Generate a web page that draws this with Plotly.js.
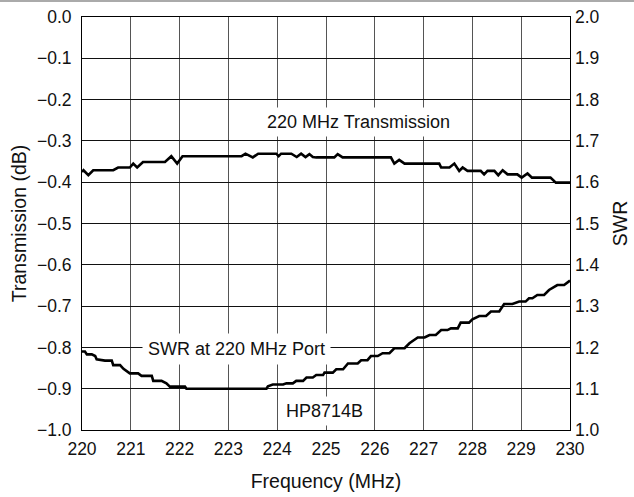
<!DOCTYPE html>
<html>
<head>
<meta charset="utf-8">
<script src="https://cdn.plot.ly/plotly-3.0.1.min.js"></script>
<style>html,body{margin:0;padding:0;background:#fff;}#chart{width:634px;height:497px;}</style>
</head>
<body>
<div id="chart"></div>
<script>
// 220 MHz transmission (dB), left axis
const transFreq = [220.00, 220.03, 220.13, 220.23, 220.64, 220.74, 220.98, 221.05, 221.13, 221.25, 221.70, 221.83, 221.95, 222.06,
  223.27, 223.35, 223.50, 223.61, 223.98, 224.03, 224.08, 224.29, 224.40, 224.49, 224.58, 224.66, 224.73, 224.80,
  225.17, 225.24, 225.34, 226.33, 226.40, 226.50, 226.61, 227.32, 227.36, 227.53, 227.63, 227.73, 227.80, 227.90,
  228.17, 228.24, 228.31, 228.45, 228.53, 228.62, 228.72, 228.92, 229.01, 229.13, 229.22, 229.60, 229.71, 230.00];
const transDb = [-0.375, -0.371, -0.383, -0.371, -0.371, -0.3645, -0.3645, -0.355, -0.3645, -0.351, -0.351, -0.337, -0.355, -0.337,
  -0.337, -0.331, -0.340, -0.331, -0.331, -0.337, -0.331, -0.331, -0.339, -0.331, -0.339, -0.332, -0.339, -0.340,
  -0.340, -0.332, -0.340, -0.340, -0.355, -0.346, -0.355, -0.355, -0.3645, -0.3645, -0.355, -0.3726, -0.3645, -0.3726,
  -0.3726, -0.381, -0.3726, -0.3726, -0.383, -0.371, -0.381, -0.381, -0.389, -0.379, -0.389, -0.389, -0.401, -0.401];

// SWR at 220 MHz port, right axis
const swrFreq = [220.00, 220.06, 220.10, 220.20, 220.27, 220.30, 220.47, 220.61, 220.64, 220.78, 220.85, 220.98, 221.15, 221.22,
  221.43, 221.46, 221.63, 221.73, 221.80, 222.11, 222.14, 223.78, 223.81, 223.91, 224.12, 224.19, 224.32, 224.39,
  224.53, 224.60, 224.73, 224.80, 224.94, 224.97, 225.14, 225.21, 225.35, 225.45, 225.65, 225.72, 225.85, 225.92,
  226.06, 226.16, 226.30, 226.40, 226.61, 226.71, 226.88, 227.02, 227.12, 227.25, 227.36, 227.49, 227.56, 227.70,
  227.76, 227.93, 228.00, 228.14, 228.28, 228.38, 228.55, 228.65, 228.82, 228.96, 229.09, 229.16, 229.23, 229.33,
  229.47, 229.57, 229.74, 229.88, 230.00];
const swrVal = [1.190, 1.190, 1.183, 1.183, 1.179, 1.171, 1.168, 1.168, 1.157, 1.157, 1.148, 1.137, 1.137, 1.131,
  1.131, 1.119, 1.119, 1.113, 1.105, 1.105, 1.100, 1.100, 1.106, 1.110, 1.110, 1.113, 1.113, 1.119,
  1.119, 1.127, 1.127, 1.133, 1.133, 1.139, 1.139, 1.147, 1.147, 1.161, 1.161, 1.169, 1.169, 1.179,
  1.179, 1.186, 1.186, 1.198, 1.198, 1.210, 1.224, 1.224, 1.230, 1.230, 1.242, 1.242, 1.246, 1.246,
  1.260, 1.260, 1.268, 1.276, 1.276, 1.287, 1.287, 1.305, 1.305, 1.311, 1.311, 1.319, 1.319, 1.327,
  1.327, 1.339, 1.351, 1.351, 1.362];

const xTicks = [220, 221, 222, 223, 224, 225, 226, 227, 228, 229, 230];
const labels = ["220 MHz Transmission", "SWR at 220 MHz Port", "HP8714B"];

const family = "Liberation Sans, Arial, sans-serif";
const tickFont = {family: family, size: 17.5, color: "#111"};
const titleFont = {family: family, size: 19.5, color: "#111"};
const noteFont = {family: family, size: 18, color: "#111"};

const traces = [
  {x: transFreq, y: transDb, type: "scatter", mode: "lines", yaxis: "y",
   line: {color: "#000", width: 2.6}, hoverinfo: "skip"},
  {x: swrFreq, y: swrVal, type: "scatter", mode: "lines", yaxis: "y2",
   line: {color: "#000", width: 2.6}, hoverinfo: "skip"}
];

const layout = {
  width: 634, height: 497,
  margin: {l: 82, r: 64, t: 17, b: 67},
  paper_bgcolor: "#fff", plot_bgcolor: "#fff",
  showlegend: false,
  font: tickFont,
  xaxis: {
    range: [220, 230], tickvals: xTicks, ticktext: xTicks.map(String),
    tickfont: tickFont,
    showgrid: true, gridcolor: "#555", gridwidth: 1,
    showline: true, linecolor: "#000", linewidth: 1, mirror: true,
    zeroline: false, ticks: "", ticklabelstandoff: 3,
    title: {text: "Frequency (MHz)", font: titleFont, standoff: 16}
  },
  yaxis: {
    range: [-1, 0], dtick: 0.1, tick0: 0, tickformat: ".1f",
    tickfont: tickFont,
    showgrid: true, gridcolor: "#111", gridwidth: 1,
    showline: true, linecolor: "#000", linewidth: 1, mirror: true,
    zeroline: false, ticks: "", ticklabelstandoff: 6,
    title: {text: "Transmission (dB)", font: titleFont, standoff: 5}
  },
  yaxis2: {
    range: [1, 2], dtick: 0.1, tick0: 1, tickformat: ".1f",
    tickfont: tickFont,
    overlaying: "y", side: "right", showgrid: false,
    showline: false, zeroline: false, ticks: "", ticklabelstandoff: 4,
    title: {text: "SWR", font: titleFont, standoff: 14}
  },
  annotations: [
    {x: 225.66, y: -0.254, xref: "x", yref: "y", text: labels[0], showarrow: false,
     font: noteFont, bgcolor: "#fff", borderpad: 4},
    {x: 223.16, y: -0.803, xref: "x", yref: "y", text: labels[1], showarrow: false,
     font: noteFont, bgcolor: "#fff", borderpad: 5},
    {x: 224.97, y: -0.955, xref: "x", yref: "y", text: labels[2], showarrow: false,
     font: noteFont, bgcolor: "#fff", borderpad: 4}
  ],
  shapes: [
    {type: "line", xref: "paper", yref: "paper", x0: -0.2, x1: 1.2, y0: 1.0387, y1: 1.0387,
     line: {color: "#aaa", width: 2}}
  ]
};

Plotly.newPlot("chart", traces, layout, {displayModeBar: false, staticPlot: true});
</script>
</body>
</html>
